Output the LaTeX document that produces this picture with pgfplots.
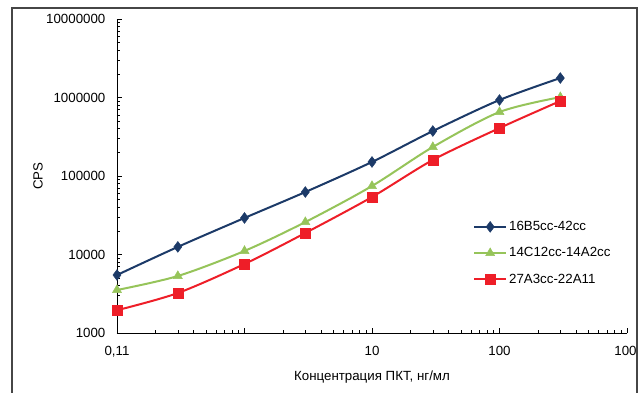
\documentclass[border=0pt]{standalone}
\usepackage{fontspec}
\setmainfont{Liberation Sans}
\usepackage{pgfplots}
\pgfplotsset{compat=1.18}
\definecolor{cblue}{RGB}{28,58,104}
\definecolor{cgreen}{RGB}{150,196,90}
\definecolor{cred}{RGB}{238,30,40}
\definecolor{framegray}{RGB}{70,70,70}
\begin{document}
\fontsize{13.3}{16}\selectfont
\begin{tikzpicture}[x=1pt,y=1pt]
\useasboundingbox (0,0) rectangle (640,392);
\begin{axis}[
  at={(117pt,59pt)}, anchor=south west,
  scale only axis, width=510pt, height=314pt,
  xmode=log, ymode=log,
  xmin=0.1, xmax=1000, ymin=1000, ymax=1e7,
  axis lines*=left,
  axis line style={black, line width=0.8pt},
  tick style={black, line width=0.6pt},
  tick align=inside,
  major tick length=5pt, minor tick length=3.5pt,
  xtick={0.1,1,10,100,1000},
  xticklabels={{0,11},{},10,100,{}},
  extra x ticks={1000},
  extra x tick labels={100},
  extra x tick style={xticklabel style={xshift=-1.5pt}},
  minor xtick={0.2,0.3,0.4,0.5,0.6,0.7,0.8,0.9,2,3,4,5,6,7,8,9,20,30,40,50,60,70,80,90,200,300,400,500,600,700,800,900},
  ytick={1000,10000,100000,1000000,10000000},
  yticklabels={1000,10000,100000,1000000,10000000},
  minor ytick={2000,3000,4000,5000,6000,7000,8000,9000,20000,30000,40000,50000,60000,70000,80000,90000,200000,300000,400000,500000,600000,700000,800000,900000,2000000,3000000,4000000,5000000,6000000,7000000,8000000,9000000},
  xticklabel style={yshift=-9pt},
  yticklabel style={xshift=-7pt},
  xlabel={Концентрация ПКТ, нг/мл},
  ylabel={CPS},
  xlabel style={at={(axis description cs:0.5,-0.14)}, anchor=center},
  ylabel style={at={(axis description cs:-0.155,0.5)}, anchor=center, rotate=0},
  legend style={at={(axis description cs:0.698,0.363)}, anchor=north west, draw=none, fill=none, row sep=11pt, inner sep=0pt, nodes={inner sep=2pt}},
  legend cell align=left,
  legend image code/.code={\draw[mark repeat=2,mark phase=2] plot coordinates {(0pt,0pt)(16pt,0pt)(32pt,0pt)};},
  every axis plot/.append style={line width=2pt, smooth},
]
\addplot[color=cblue, mark=diamond*, mark size=5.4pt, mark options={solid, line width=0.5pt}] coordinates {
(0.1,5480)(0.3,12500)(1,29200)(3,62500)(10,151000)(30,374000)(100,929000)(300,1770000)};
\addlegendentry{16B5cc-42cc}
\addplot[color=cgreen, mark=triangle*, mark size=5.2pt, mark options={solid, line width=0.5pt}] coordinates {
(0.1,3530)(0.3,5320)(1,11100)(3,25900)(10,74600)(30,234000)(100,653000)(300,1010000)};
\addlegendentry{14C12cc-14A2cc}
\addplot[color=cred, mark=square*, mark size=5pt, mark options={solid, line width=0.5pt}] coordinates {
(0.1,1950)(0.3,3230)(1,7570)(3,18800)(10,54000)(30,160000)(100,408000)(300,902000)};
\addlegendentry{27A3cc-22A11}
\end{axis}
\draw[line width=1.6pt, color=framegray] (12,-5) -- (12,384) -- (637,384) -- (637,-5);
\end{tikzpicture}
\end{document}
